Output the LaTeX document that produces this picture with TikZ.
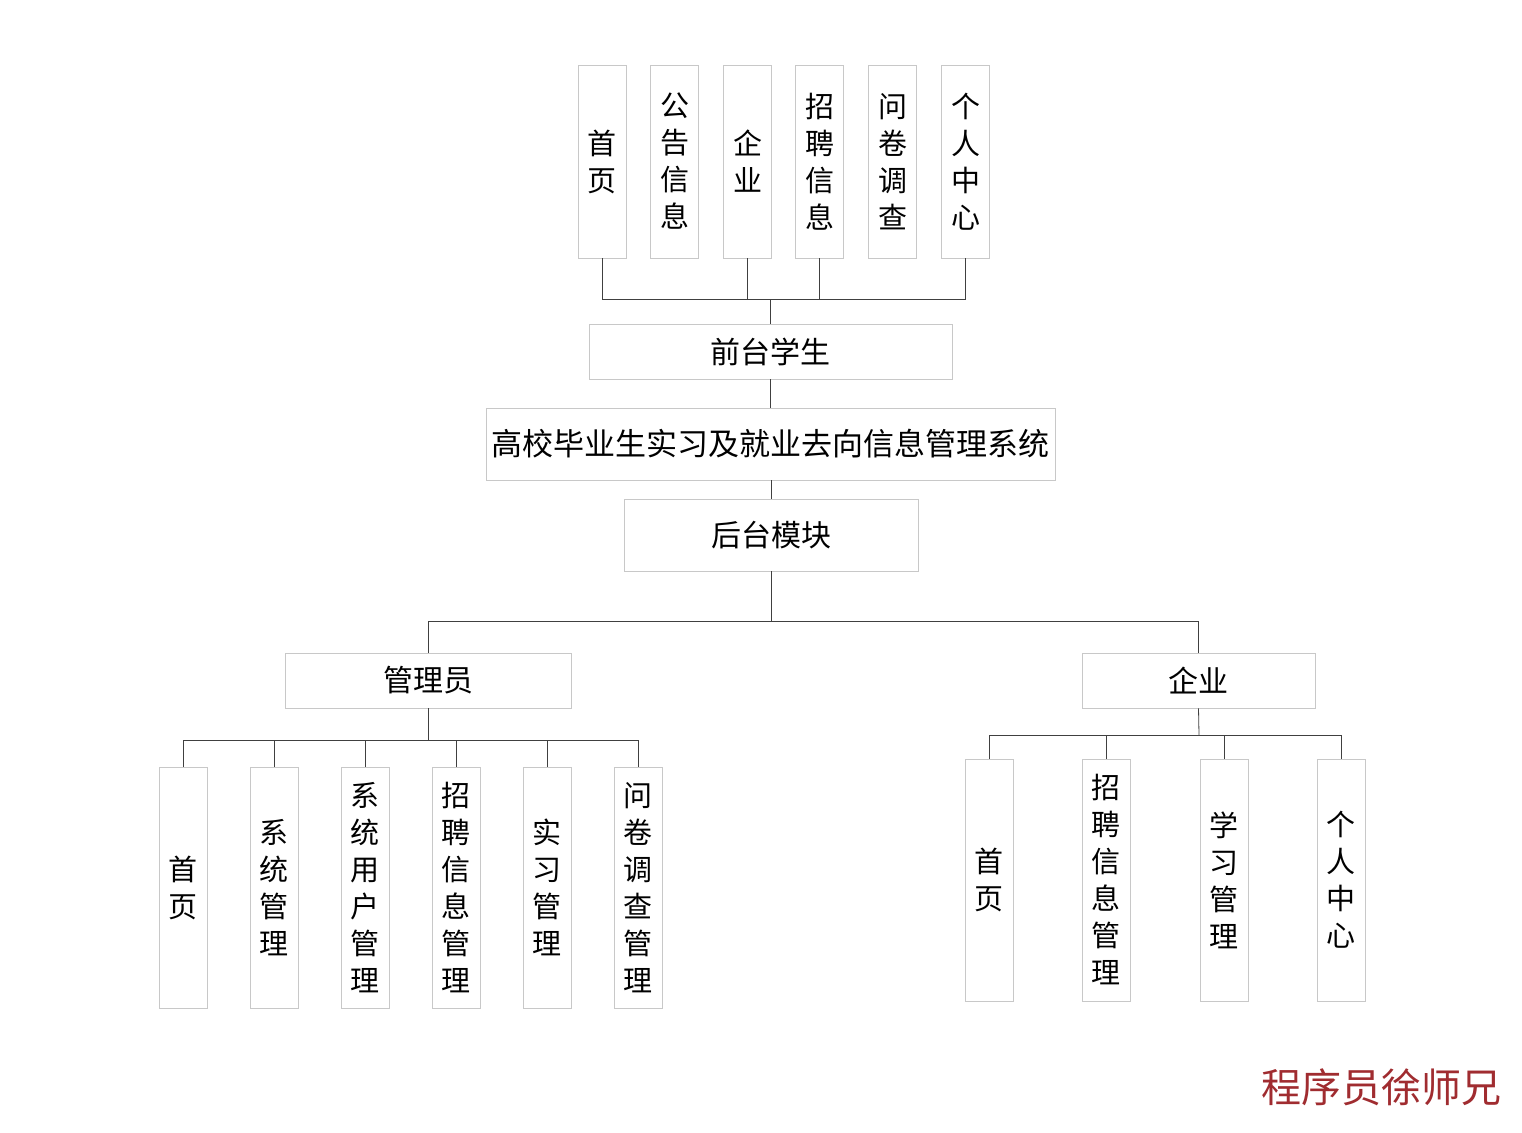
\documentclass[tikz,border=0pt]{standalone}
\usepackage{fontspec}
\newfontfamily\cjk{Noto Sans CJK SC}
\definecolor{boxline}{RGB}{200,200,200}
\definecolor{conn}{RGB}{64,64,64}
\definecolor{mark}{RGB}{160,44,48}
\begin{document}
\begin{tikzpicture}[x=1pt,y=-1pt,
  box/.style={draw=boxline, line width=0.8pt, fill=white, inner sep=0pt, align=center, text=black},
  vbox/.style={box, minimum width=48pt, font=\cjk\fontsize{29}{37}\selectfont},
  hbox/.style={box, font=\cjk\fontsize{30}{36}\selectfont},
  link/.style={draw=conn, line width=0.8pt}]
\useasboundingbox (0,0) rectangle (1522,1132);
\fill[white] (0,0) rectangle (1522,1132);
% top row
\node[vbox, minimum height=193pt] (t1) at (602,161.5) {首\\页};
\node[vbox, minimum height=193pt] (t2) at (674.5,161.5) {公\\告\\信\\息};
\node[vbox, minimum height=193pt] (t3) at (747.5,161.5) {企\\业};
\node[vbox, minimum height=193pt] (t4) at (819.5,161.5) {招\\聘\\信\\息};
\node[vbox, minimum height=193pt] (t5) at (892.5,161.5) {问\\卷\\调\\查};
\node[vbox, minimum height=193pt] (t6) at (965.5,161.5) {个\\人\\中\\心};
\coordinate (tj) at (770,299);
\node[hbox, minimum width=363pt, minimum height=55pt] (front) at (770.5,351.5) {前台学生};
\node[box, minimum width=569pt, minimum height=72pt, font=\cjk\fontsize{31}{38}\selectfont] (sys) at (770.5,444) {高校毕业生实习及就业去向信息管理系统};
\node[hbox, minimum width=294pt, minimum height=72pt] (back) at (771,535) {后台模块};
\coordinate (bj) at (771,621);
\node[hbox, minimum width=286pt, minimum height=55pt] (admin) at (428,680.5) {管理员};
\node[hbox, minimum width=233pt, minimum height=55pt] (ent) at (1198.5,680.5) {企业};
\coordinate (aj) at (428,740);
\coordinate (ej) at (1199,735);
% admin children
\node[vbox, minimum height=241pt] (a1) at (183,887.5) {首\\页};
\node[vbox, minimum height=241pt] (a2) at (274,887.5) {系\\统\\管\\理};
\node[vbox, minimum height=241pt] (a3) at (365,887.5) {系\\统\\用\\户\\管\\理};
\node[vbox, minimum height=241pt] (a4) at (456,887.5) {招\\聘\\信\\息\\管\\理};
\node[vbox, minimum height=241pt] (a5) at (547,887.5) {实\\习\\管\\理};
\node[vbox, minimum height=241pt] (a6) at (638,887.5) {问\\卷\\调\\查\\管\\理};
% enterprise children
\node[vbox, minimum height=242pt] (e1) at (989,880) {首\\页};
\node[vbox, minimum height=242pt] (e2) at (1106,880) {招\\聘\\信\\息\\管\\理};
\node[vbox, minimum height=242pt] (e3) at (1224,880) {学\\习\\管\\理};
\node[vbox, minimum height=242pt] (e4) at (1341,880) {个\\人\\中\\心};
% connectors top
\draw[link] (t1.south) -- (t1.south |- tj) -- (t6.south |- tj) -- (t6.south);
\draw[link] (t3.south) -- (t3.south |- tj);
\draw[link] (t4.south) -- (t4.south |- tj);
\draw[link] (tj) -- (front.north -| tj);
\draw[link] (front.south -| tj) -- (sys.north -| tj);
\draw[link] (sys.south -| bj) -- (back.north -| bj);
\draw[link] (back.south -| bj) -- (bj);
\draw[link] (admin.north) -- (admin.north |- bj) -- (ent.north |- bj) -- (ent.north);
% admin connectors
\draw[link] (admin.south) -- (aj);
\draw[link] (a1.north) -- (a1.north |- aj) -- (a6.north |- aj) -- (a6.north);
\foreach \n in {a2,a3,a4,a5} \draw[link] (\n.north) -- (\n.north |- aj);
% enterprise connectors
\draw[link] (ent.south) -- (ej);
\draw[link] (e1.north) -- (e1.north |- ej) -- (e4.north |- ej) -- (e4.north);
\foreach \n in {e2,e3} \draw[link] (\n.north) -- (\n.north |- ej);
% watermark
\node[inner sep=0pt, text=mark, font=\cjk\fontsize{40}{44}\selectfont] (wm) at (1381,1087) {程序员徐师兄};
\end{tikzpicture}
\end{document}
